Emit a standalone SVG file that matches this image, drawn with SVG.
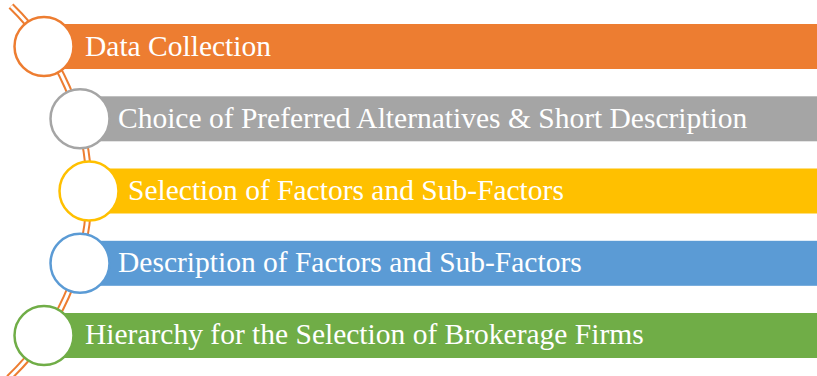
<svg xmlns="http://www.w3.org/2000/svg" width="817" height="376" viewBox="0 0 817 376">
  <style>
    .rail-out { fill: none; stroke: #ED7D31; stroke-width: 7; }
    .rail-in { fill: none; stroke: #FFFFFF; stroke-width: 3; }
    .dot { fill: #FFFFFF; stroke-width: 2.5; }
    .label { font-family: "Liberation Serif", "Times New Roman", serif; font-size: 29.5px; fill: #FFFFFF; }
  </style>
  <rect width="817" height="376" fill="#FFFFFF"/>

  <!-- curved spine joining the step markers -->
  <g id="connectors">
    <path class="rail-out" d="M 11 6 A 258 258 0 0 1 8.75 378"/>
    <path class="rail-in" d="M 11 6 A 258 258 0 0 1 8.75 378"/>
  </g>

  <g id="step1">
    <rect x="44" y="24" width="773" height="45" fill="#ED7D31"/>
    <circle class="dot" cx="44" cy="46.5" r="29.5" stroke="#ED7D31"/>
    <text class="label" x="85" y="55.5">Data Collection</text>
  </g>

  <g id="step2">
    <rect x="80" y="96.3" width="737" height="45" fill="#A5A5A5"/>
    <circle class="dot" cx="80" cy="118.8" r="29.5" stroke="#A5A5A5"/>
    <text class="label" x="118" y="127.5">Choice of Preferred Alternatives &amp; Short Description</text>
  </g>

  <g id="step3">
    <rect x="89" y="168.5" width="728" height="45" fill="#FFC000"/>
    <circle class="dot" cx="89" cy="191" r="29.5" stroke="#FFC000"/>
    <text class="label" x="128" y="199.5">Selection of Factors and Sub-Factors</text>
  </g>

  <g id="step4">
    <rect x="80" y="240.8" width="737" height="45" fill="#5B9BD5"/>
    <circle class="dot" cx="80" cy="263.3" r="29.5" stroke="#5B9BD5"/>
    <text class="label" x="118" y="272">Description of Factors and Sub-Factors</text>
  </g>

  <g id="step5">
    <rect x="44" y="313" width="773" height="45" fill="#70AD47"/>
    <circle class="dot" cx="44" cy="335.5" r="29.5" stroke="#70AD47"/>
    <text class="label" x="85" y="344">Hierarchy for the Selection of Brokerage Firms</text>
  </g>
</svg>
